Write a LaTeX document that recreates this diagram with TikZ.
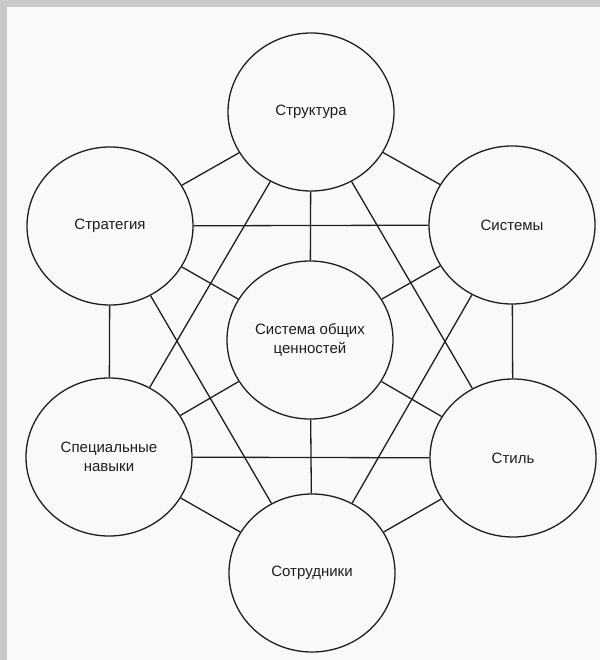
\documentclass[tikz,border=0pt]{standalone}
\usepackage{fontspec}
\setmainfont{Liberation Sans}
\usetikzlibrary{shapes.geometric}
\definecolor{bgout}{HTML}{C9C9C9}
\definecolor{bgin}{HTML}{F9F9F9}
\definecolor{ink}{HTML}{1E1E1E}
\begin{document}
\begin{tikzpicture}[x=1pt,y=-1pt,
  blob/.style={ellipse, draw=ink, line width=1.3pt, fill=bgin,
    minimum width=166pt, minimum height=158pt, inner sep=0pt,
    align=center, font=\fontsize{15}{19}\selectfont, text=ink},
  link/.style={draw=ink, line width=1.3pt}]
\fill[bgout] (0,0) rectangle (600,660);
\fill[bgin] (7,7) rectangle (600,660);
\useasboundingbox (0,0) rectangle (600,660);

\node[blob] (struct) at (311,112) {Структура};
\node[blob] (strat)  at (110,226) {Стратегия};
\node[blob] (syst)   at (512,225) {Системы};
\node[blob] (core)   at (310,340) {Система общих\\ценностей};
\node[blob] (skills) at (109,457) {Специальные\\навыки};
\node[blob] (style)  at (513,458) {Стиль};
\node[blob] (staff)  at (312,573) {Сотрудники};

% spokes from the centre
\draw[link] (core) -- (struct);
\draw[link] (core) -- (strat);
\draw[link] (core) -- (syst);
\draw[link] (core) -- (skills);
\draw[link] (core) -- (style);
\draw[link] (core) -- (staff);
% hexagon edges
\draw[link] (struct) -- (strat);
\draw[link] (struct) -- (syst);
\draw[link] (strat) -- (skills);
\draw[link] (syst) -- (style);
\draw[link] (skills) -- (staff);
\draw[link] (style) -- (staff);
% second neighbours
\draw[link] (strat) -- (syst);
\draw[link] (skills) -- (style);
\draw[link] (struct) -- (skills);
\draw[link] (struct) -- (style);
\draw[link] (strat) -- (staff);
\draw[link] (syst) -- (staff);
\end{tikzpicture}
\end{document}
